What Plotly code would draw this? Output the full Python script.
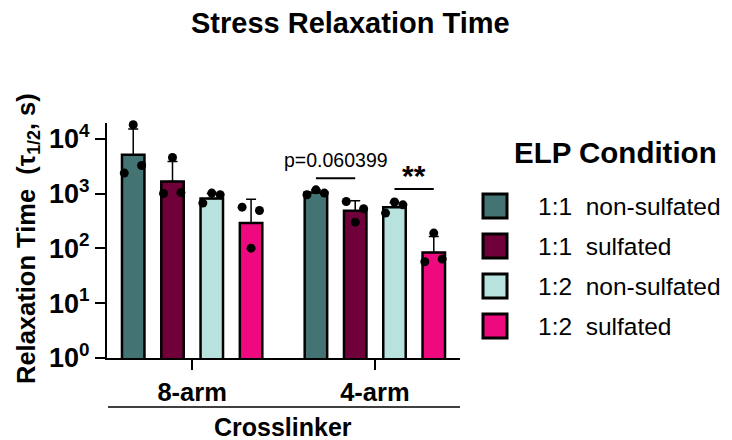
import plotly.graph_objects as go

# ---------------- data ----------------
CROSSLINKERS = ["8-arm", "4-arm"]
RATIOS = ["1:1", "1:1", "1:2", "1:2"]
SULFATION = ["non-sulfated", "sulfated", "non-sulfated", "sulfated"]
COLORS = ["#437473", "#700039", "#B7E2DE", "#EE0A7E"]

# bar heights (s) per condition: [8-arm, 4-arm]
BAR_11_NS = [5100, 1045]
BAR_11_S = [1660, 484]
BAR_12_NS = [810, 565]
BAR_12_S = [290, 84]

# upper error (s) per condition: [8-arm, 4-arm]
ERR_11_NS = [9900, 110]
ERR_11_S = [2190, 253]
ERR_12_NS = [190, 125]
ERR_12_S = [500, 80]

# individual replicates (s): per crosslinker, three points
PTS_11_NS = [[2360, 18000, 3250], [950, 1170, 1020]]
PTS_11_S = [[1000, 4550, 1040], [716, 301, 527]]
PTS_12_NS = [[670, 1020, 950], [440, 700, 623]]
PTS_12_S = [[565, 101, 490], [57, 190, 64]]

P_VALUE_TEXT = "p=0.060399"
SIG_TEXT = "**"

BARS = [BAR_11_NS, BAR_11_S, BAR_12_NS, BAR_12_S]
ERRS = [ERR_11_NS, ERR_11_S, ERR_12_NS, ERR_12_S]
PTS = [PTS_11_NS, PTS_11_S, PTS_12_NS, PTS_12_S]

# ---------------- layout geometry ----------------
# page body has an 8px default margin, so the figure starts at (8, 8)
OX, OY = 8, 8
PAGE_W, PAGE_H = 732, 440
W, H = PAGE_W - OX, PAGE_H - OY
PL, PR, PT, PB = 107, 460, 123, 358   # plot area in page pixels
L, T = PL - OX, PT - OY
R, B = (OX + W) - PR, (OY + H) - PB
PW, PH = PR - PL, PB - PT

def xp(px):
    return (px - PL) / PW

def yp(py):
    return (PB - py) / PH

FONT = "Liberation Sans, Arial, sans-serif"
OFFSETS = [-0.3225, -0.1075, 0.1075, 0.3225]
BW = 0.123
JITTER = [-0.049, 0.0, 0.046]

fig = go.Figure()

for i in range(4):
    fig.add_trace(go.Bar(
        x=[0, 1], y=BARS[i], width=BW, offset=OFFSETS[i] - BW / 2,
        marker=dict(color=COLORS[i], line=dict(color="black", width=2.5)),
        error_y=dict(type="data", symmetric=False, array=ERRS[i],
                     arrayminus=[0, 0], color="black", thickness=1.5, width=5),
        showlegend=False, hoverinfo="y",
    ))

for i in range(4):
    xs, ys = [], []
    for g in range(2):
        for k, v in enumerate(PTS[i][g]):
            xs.append(g + OFFSETS[i] + JITTER[k])
            ys.append(v)
    fig.add_trace(go.Scatter(
        x=xs, y=ys, mode="markers",
        marker=dict(color="black", size=9),
        showlegend=False, cliponaxis=False,
    ))

annotations = []
shapes = []

# title
annotations.append(dict(text="<b>Stress Relaxation Time</b>", xref="paper", yref="paper",
                        x=xp(350), y=yp(23), xanchor="center", yanchor="middle",
                        showarrow=False, font=dict(family=FONT, size=29, color="black")))
# y title
annotations.append(dict(text="<b>Relaxation Time  (τ<sub>1/2</sub>, s)</b>", xref="paper", yref="paper",
                        x=xp(28), y=yp(239), xanchor="center", yanchor="middle", textangle=-90,
                        showarrow=False, font=dict(family=FONT, size=25.5, color="black")))
# x title + line
annotations.append(dict(text="<b>Crosslinker</b>", xref="paper", yref="paper",
                        x=xp(283), y=yp(427), xanchor="center", yanchor="middle",
                        showarrow=False, font=dict(family=FONT, size=25, color="black")))
shapes.append(dict(type="line", xref="paper", yref="paper", x0=xp(108), x1=xp(460),
                   y0=yp(407), y1=yp(407), line=dict(color="black", width=1.5)))

# significance
shapes.append(dict(type="line", xref="x", yref="paper", x0=1 + OFFSETS[0], x1=1 + OFFSETS[1],
                   y0=yp(178.3), y1=yp(178.3), line=dict(color="black", width=2)))
annotations.append(dict(text=P_VALUE_TEXT, xref="x", yref="paper",
                        x=1 + (OFFSETS[0] + OFFSETS[1]) / 2, y=yp(160), xanchor="center", yanchor="middle",
                        showarrow=False, font=dict(family=FONT, size=19.5, color="black")))
shapes.append(dict(type="line", xref="x", yref="paper", x0=1 + OFFSETS[2], x1=1 + OFFSETS[3],
                   y0=yp(189), y1=yp(189), line=dict(color="black", width=2)))
annotations.append(dict(text="<b>" + SIG_TEXT + "</b>", xref="x", yref="paper",
                        x=1 + (OFFSETS[2] + OFFSETS[3]) / 2, y=yp(175), xanchor="center", yanchor="middle",
                        showarrow=False, font=dict(family=FONT, size=30, color="black")))

# legend (manual)
annotations.append(dict(text="<b>ELP Condition</b>", xref="paper", yref="paper",
                        x=xp(615), y=yp(152), xanchor="center", yanchor="middle",
                        showarrow=False, font=dict(family=FONT, size=29.5, color="black")))
for i in range(4):
    cy = 206 + 40 * i
    shapes.append(dict(type="rect", xref="paper", yref="paper",
                       x0=xp(483), x1=xp(507), y0=yp(cy + 12), y1=yp(cy - 12),
                       fillcolor=COLORS[i], line=dict(color="black", width=3)))
    annotations.append(dict(text=RATIOS[i] + "\u00a0\u00a0" + SULFATION[i], xref="paper", yref="paper",
                            x=xp(536), y=yp(cy), xanchor="left", yanchor="middle",
                            showarrow=False, font=dict(family=FONT, size=24.5, color="black")))

fig.update_layout(
    width=W, height=H, autosize=False,
    margin=dict(l=L, r=R, t=T, b=B, pad=0, autoexpand=False),
    paper_bgcolor="white", plot_bgcolor="white",
    barmode="overlay",
    showlegend=False,
    font=dict(family=FONT, color="black"),
    xaxis=dict(range=[-0.466, 1.466], tickvals=[0, 1], automargin=False,
               ticktext=["<b>" + c + "</b>" for c in CROSSLINKERS],
               ticks="outside", ticklen=10, tickwidth=2, tickcolor="black",
               showline=True, linewidth=2, linecolor="black",
               showgrid=False, zeroline=False,
               tickfont=dict(family=FONT, size=25.5, color="black")),
    yaxis=dict(type="log", range=[0, 4.287], automargin=False,
               tickvals=[1, 10, 100, 1000, 10000],
               ticktext=["<b>10<sup>%d</sup></b>" % e for e in range(5)],
               ticks="outside", ticklen=10, tickwidth=2, tickcolor="black",
               showline=True, linewidth=2, linecolor="black",
               showgrid=False, zeroline=False, ticklabelstandoff=0,
               tickfont=dict(family=FONT, size=27, color="black")),
    annotations=annotations,
    shapes=shapes,
)

fig.write_html("out.html")
